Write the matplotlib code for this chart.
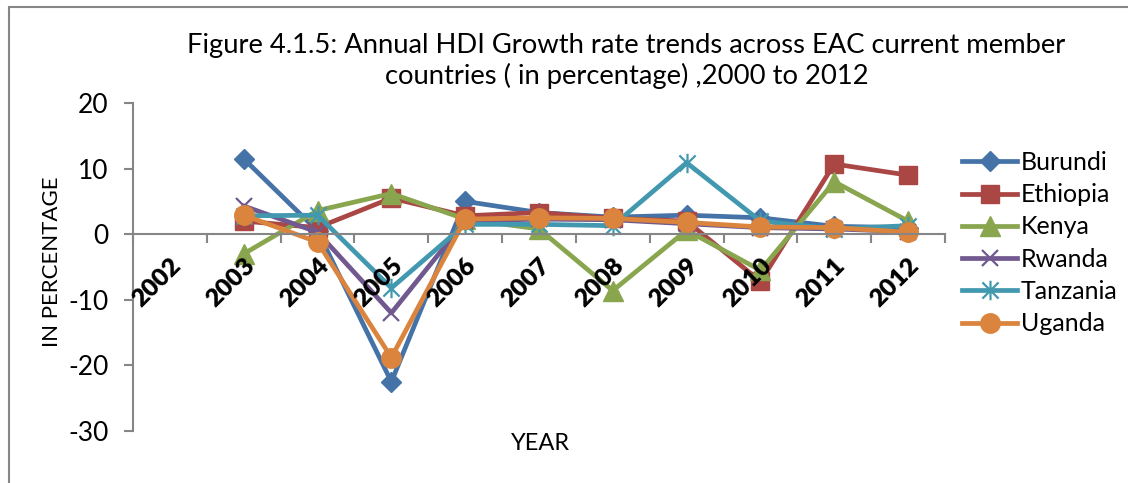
import numpy as np
import matplotlib
matplotlib.use("Agg")
import matplotlib.pyplot as plt
from matplotlib.path import Path
from matplotlib.patches import Rectangle

plt.rcParams['font.family'] = ['Lato', 'DejaVu Sans']

years = ['2002', '2003', '2004', '2005', '2006', '2007', '2008', '2009', '2010', '2011', '2012']
nan = np.nan
burundi = [nan, 11.5, 0.5, -22.5, 5.0, 3.3, 2.6, 2.9, 2.5, 1.2, 1.0]
ethiopia = [nan, 2.0, 1.0, 5.5, 2.8, 3.3, 2.4, 2.0, -7.2, 10.7, 9.0]
kenya = [nan, -3.0, 3.6, 6.2, 2.3, 0.8, -8.6, 0.6, -5.5, 8.0, 2.0]
rwanda = [nan, 4.3, 0.3, -12.0, 2.0, 2.3, 2.2, 1.6, 1.0, 0.8, 0.4]
tanzania = [nan, 2.8, 2.9, -8.2, 1.5, 1.5, 1.3, 10.9, 2.0, 0.8, 1.3]
uganda = [nan, 2.9, -1.2, -18.8, 2.3, 2.5, 2.4, 1.8, 1.1, 1.0, 0.3]

names = ['Burundi', 'Ethiopia', 'Kenya', 'Rwanda', 'Tanzania', 'Uganda']
series = [burundi, ethiopia, kenya, rwanda, tanzania, uganda]
colors = ['#4572A7', '#AA4643', '#89A54E', '#71588F', '#4198AF', '#DB843D']

# Excel-like star marker: X plus vertical bar
star_verts = [(-0.5, -0.5), (0.5, 0.5), (-0.5, 0.5), (0.5, -0.5), (0, -0.6), (0, 0.6)]
star_codes = [Path.MOVETO, Path.LINETO, Path.MOVETO, Path.LINETO, Path.MOVETO, Path.LINETO]
star = Path(star_verts, star_codes)

styles = [
    dict(marker='D', markersize=10),
    dict(marker='s', markersize=13),
    dict(marker='^', markersize=14),
    dict(marker='x', markersize=11, markeredgewidth=1.6),
    dict(marker=star, markersize=14, markeredgewidth=1.6),
    dict(marker='o', markersize=14),
]

fig = plt.figure(figsize=(11.28, 4.83), dpi=100)
ax = fig.add_axes([133/1128, 1-431/483, (945-133)/1128, (431-103)/483])

x = np.arange(len(years)) + 0.5
for name, vals, c, st in zip(names, series, colors, styles):
    ax.plot(x, vals, color=c, linewidth=3.4, markerfacecolor=c, markeredgecolor=c,
            label=name, **st)

ax.set_xlim(0, len(years))
ax.set_ylim(-30, 20)
ax.set_yticks([20, 10, 0, -10, -20, -30])
ax.set_yticklabels(['20', '10', '0', '-10', '-20', '-30'])

grey = '#868686'
for s in ['top', 'right']:
    ax.spines[s].set_visible(False)
ax.spines['left'].set_color(grey)
ax.spines['left'].set_linewidth(1.5)
ax.spines['bottom'].set_position(('data', 0))
ax.spines['bottom'].set_color(grey)
ax.spines['bottom'].set_linewidth(1.5)
ax.set_xticks(np.arange(len(years) + 1))
ax.set_xticklabels([])
ax.tick_params(axis='x', direction='out', length=6.5, width=1.5, color=grey)
ax.tick_params(axis='y', direction='out', length=6.5, width=1.5, color=grey,
               labelsize=19, pad=11)

for xi, lab in zip(x, years):
    ax.annotate(lab, xy=(xi, 0), xycoords='data', xytext=(-9.4, -34.5),
                textcoords='offset points', rotation=45, rotation_mode='anchor',
                ha='center', va='center', fontsize=18, fontweight='heavy', color='black')

fig.text(52/1128, 1-262/483, 'IN PERCENTAGE', rotation=90, ha='center', va='center', fontsize=16)
fig.text(541/1128, 1-443/483, 'YEAR', ha='center', va='center', fontsize=17)
fig.text(626/1128, 1-45/483, 'Figure 4.1.5: Annual HDI Growth rate trends across EAC current member',
         ha='center', va='center', fontsize=19.7)
fig.text(627/1128, 1-76/483, 'countries ( in percentage) ,2000 to 2012',
         ha='center', va='center', fontsize=19.7)

leg = ax.legend(loc='upper left', bbox_to_anchor=(952/1128, 1-141/483),
                bbox_transform=fig.transFigure, frameon=False, fontsize=18,
                handlelength=2.2, handletextpad=0.15, labelspacing=0.37, borderaxespad=0)

fig.patches.append(Rectangle((9/1128, -0.1), 1.2, (476/483) + 0.1, transform=fig.transFigure,
                             fill=False, edgecolor=grey, linewidth=1.5))

fig.savefig('out.png', dpi=100)
